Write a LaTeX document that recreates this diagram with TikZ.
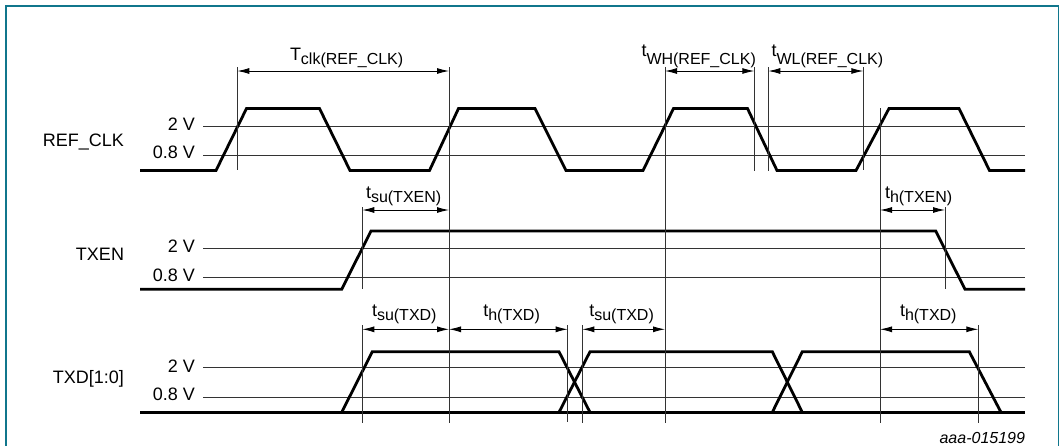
\documentclass[tikz,border=0pt]{standalone}
\usepackage{fontspec}
\setmainfont{Liberation Sans}
\usetikzlibrary{arrows.meta}
\definecolor{framecol}{RGB}{16,118,140}
\newcommand{\tsub}[3]{#1\raisebox{-#3pt}{\fontsize{16}{18}\selectfont #2}}
\begin{document}
\begin{tikzpicture}[x=1pt,y=-1pt,
  sig/.style={line width=2.8pt,line join=miter},
  refline/.style={line width=0.9pt,draw=black!80},
  dimline/.style={line width=0.9pt,{Latex[length=12pt,width=6pt]}-{Latex[length=12pt,width=6pt]}},
  lbl/.style={font=\fontsize{18}{20}\selectfont,inner sep=0pt,outer sep=0pt},
  note/.style={font=\fontsize{16}{18}\selectfont\itshape,inner sep=0pt,outer sep=0pt}
]
\useasboundingbox (0,0) rectangle (1061,445);
% frame
\draw[framecol,line width=1.8pt] (6.3,452) -- (6.3,5.7) -- (1058.5,5.7) -- (1058.5,452);

% signal names and levels
\node[lbl,anchor=base east] (nref) at (124,146) {REF\_CLK};
\node[lbl,anchor=base east] (ntxen) at (124,260.7) {TXEN};
\node[lbl,anchor=base east] (ntxd) at (124,383.3) {TXD[1:0]};
\node[lbl,anchor=base east] (r2) at (195,130.5) {2 V};
\node[lbl,anchor=base east] (r08) at (195,158.6) {0.8 V};
\node[lbl,anchor=base east] (e2) at (195,252.8) {2 V};
\node[lbl,anchor=base east] (e08) at (195,281) {0.8 V};
\node[lbl,anchor=base east] (d2) at (195,372.7) {2 V};
\node[lbl,anchor=base east] (d08) at (195,400.8) {0.8 V};

% threshold lines
\draw[refline] (203,126) -- (1025,126);
\draw[refline] (203,155.3) -- (1025,155.3);
\draw[refline] (203,248.3) -- (1025,248.3);
\draw[refline] (203,277.7) -- (1025,277.7);
\draw[refline] (203,367.7) -- (1025,367.7);
\draw[refline] (203,397.3) -- (1025,397.3);

% waveforms
\draw[sig] (140,170.5) -- (216,170.5) -- (246.5,108.5) -- (319.5,108.5) -- (350,170.5)
  -- (429.5,170.5) -- (458.5,108.5) -- (535,108.5) -- (566,170.5)
  -- (643,170.5) -- (673.5,108.5) -- (747.5,108.5) -- (777,170.5)
  -- (856,170.5) -- (889,108.5) -- (959,108.5) -- (989.5,170.5) -- (1025,170.5);
\draw[sig] (140,289.3) -- (341.7,289.3) -- (371,231) -- (935.7,231) -- (965,289.3) -- (1025,289.3);
\draw[sig] (140,412.3) -- (1025,412.3);
\draw[sig] (341.7,412.3) -- (372.3,351.7) -- (559,351.7) -- (590,412.3);
\draw[sig] (559,412.3) -- (590,351.7) -- (772.3,351.7) -- (802.3,412.3);
\draw[sig] (772.3,412.3) -- (802.3,351.7) -- (969.3,351.7) -- (1001,412.3);

% vertical reference lines
\coordinate (v1t) at (237.3,67);  \coordinate (v1b) at (237.3,170);
\coordinate (v2t) at (449,67);    \coordinate (v2b) at (449,423);
\coordinate (v3t) at (665,67);    \coordinate (v3b) at (665,423);
\coordinate (v4t) at (754.3,67);  \coordinate (v4b) at (754.3,171);
\coordinate (v5t) at (768.3,67);  \coordinate (v5b) at (768.3,171);
\coordinate (v6t) at (863.3,67);  \coordinate (v6b) at (863.3,170);
\coordinate (v7t) at (880,108);   \coordinate (v7b) at (880,423);
\coordinate (v8t) at (362.3,207); \coordinate (v8b) at (362.3,289);
\coordinate (v9t) at (362.3,325); \coordinate (v9b) at (362.3,423);
\coordinate (v10t) at (945,207);  \coordinate (v10b) at (945,289);
\coordinate (v11t) at (567.7,325); \coordinate (v11b) at (567.7,422);
\coordinate (v12t) at (582.3,325); \coordinate (v12b) at (582.3,423);
\coordinate (v13t) at (978.3,325); \coordinate (v13b) at (978.3,423);
\foreach \v in {1,...,13} {\draw[refline] (v\v t) -- (v\v b);}

% dimension arrows
\coordinate (a1) at (237.3,71);  \coordinate (a2) at (449,71);
\coordinate (a3) at (665,71);    \coordinate (a4) at (754.3,71);
\coordinate (a5) at (768.3,71);  \coordinate (a6) at (863.3,71);
\coordinate (b1) at (362.3,210); \coordinate (b2) at (449,210);
\coordinate (b3) at (880,210);   \coordinate (b4) at (945,210);
\coordinate (c1) at (362.3,329.3); \coordinate (c2) at (449,329.3);
\coordinate (c3) at (567.7,329.3); \coordinate (c4) at (582.3,329.3);
\coordinate (c5) at (665,329.3);   \coordinate (c6) at (880,329.3);
\coordinate (c7) at (978.3,329.3);
\draw[dimline] (a1) -- (a2);
\draw[dimline] (a3) -- (a4);
\draw[dimline] (a5) -- (a6);
\draw[dimline] (b1) -- (b2);
\draw[dimline] (b3) -- (b4);
\draw[dimline] (c1) -- (c2);
\draw[dimline] (c2) -- (c3);
\draw[dimline] (c4) -- (c5);
\draw[dimline] (c6) -- (c7);

% dimension labels
\node[lbl,anchor=base west] (lclk) at (290,60.5) {\tsub{T}{clk(REF\_CLK)}{4}};
\node[lbl,anchor=base west] (lwh) at (641.5,56) {\tsub{t}{WH(REF\_CLK)}{8.5}};
\node[lbl,anchor=base west] (lwl) at (771.5,56) {\tsub{t}{WL(REF\_CLK)}{8.5}};
\node[lbl,anchor=base west] (lsuen) at (366,198.5) {\tsub{t}{su(TXEN)}{3.5}};
\node[lbl,anchor=base west] (lhen) at (885,198.5) {\tsub{t}{h(TXEN)}{3.5}};
\node[lbl,anchor=base west] (lsud1) at (372,316.7) {\tsub{t}{su(TXD)}{4}};
\node[lbl,anchor=base west] (lhd1) at (483.3,316.7) {\tsub{t}{h(TXD)}{4}};
\node[lbl,anchor=base west] (lsud2) at (589.3,316.7) {\tsub{t}{su(TXD)}{4}};
\node[lbl,anchor=base west] (lhd2) at (900,316.7) {\tsub{t}{h(TXD)}{4}};

\node[note,anchor=base east] (code) at (1025,443) {aaa-015199};
\end{tikzpicture}
\end{document}
